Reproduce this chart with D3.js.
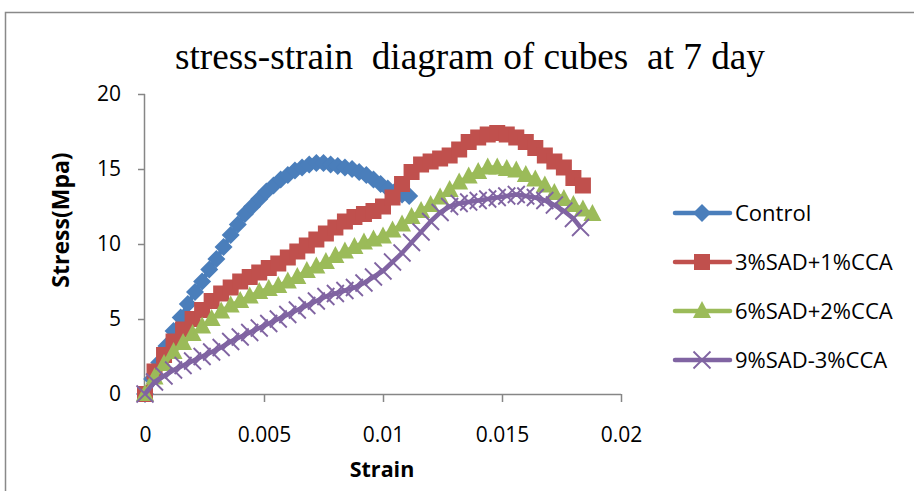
<!DOCTYPE html>
<html>
<head>
<meta charset="utf-8">
<script src="https://cdn.jsdelivr.net/npm/d3@7"></script>
<style>
  body { margin: 0; background: #fff; }
  svg { display: block; }
</style>
</head>
<body>
<div id="chart"></div>
<script>
// stress-strain chart of cubes at 7 days

const TITLE = "stress-strain  diagram of cubes  at 7 day";
const X_LABEL = "Strain";
const Y_LABEL = "Stress(Mpa)";

const xTicks = [0, 0.005, 0.01, 0.015, 0.02];
const yTicks = [0, 5, 10, 15, 20];

const seriesNames = ["Control", "3%SAD+1%CCA", "6%SAD+2%CCA", "9%SAD-3%CCA"];
const seriesColors = ["#4a7ebb", "#c0504d", "#9bbb59", "#8064a2"];
const seriesMarkers = ["diamond", "square", "triangle", "cross"];

// Control
const controlStrain = [0, 0.0003, 0.0006, 0.0009, 0.0012, 0.0015, 0.0018, 0.0021, 0.0024, 0.0027,
  0.003, 0.0033, 0.0036, 0.0039, 0.0042, 0.0045, 0.0048, 0.0051, 0.0054, 0.0057,
  0.006, 0.0063, 0.0066, 0.0069, 0.0072, 0.0075, 0.0078, 0.0081, 0.0084, 0.0087,
  0.009, 0.0093, 0.0096, 0.0099, 0.0102, 0.0105, 0.0108, 0.0111];
const controlStress = [0, 1.0, 2.1, 3.2, 4.2, 5.1, 6.0, 6.8, 7.5, 8.3,
  9.0, 9.8, 10.6, 11.3, 12.0, 12.5, 13.0, 13.5, 13.9, 14.3,
  14.6, 14.9, 15.1, 15.3, 15.4, 15.4, 15.3, 15.2, 15.1, 15.0,
  14.8, 14.6, 14.3, 14.0, 13.7, 13.5, 13.3, 13.2];

// 3%SAD+1%CCA
const sad3Strain = [0, 0.0004, 0.0008, 0.0012, 0.0016, 0.002, 0.0024, 0.0028, 0.0032, 0.0036,
  0.004, 0.0044, 0.0048, 0.0052, 0.0056, 0.006, 0.0064, 0.0068, 0.0072, 0.0076,
  0.008, 0.0084, 0.0088, 0.0092, 0.0096, 0.01, 0.0104, 0.0108, 0.0112, 0.0116,
  0.012, 0.0124, 0.0128, 0.0132, 0.0136, 0.014, 0.0144, 0.0148, 0.0152, 0.0156,
  0.016, 0.0164, 0.0168, 0.0172, 0.0176, 0.018, 0.0184];
const sad3Stress = [0, 1.5, 2.6, 3.5, 4.3, 5.0, 5.6, 6.2, 6.7, 7.1,
  7.5, 7.8, 8.1, 8.4, 8.7, 9.1, 9.5, 9.9, 10.3, 10.7,
  11.1, 11.5, 11.8, 12.0, 12.2, 12.5, 13.1, 14.0, 14.8, 15.3,
  15.5, 15.7, 15.9, 16.3, 16.8, 17.1, 17.3, 17.4, 17.3, 17.1,
  16.8, 16.4, 15.9, 15.5, 15.1, 14.4, 13.9];

// 6%SAD+2%CCA
const sad6Strain = [0, 0.0004, 0.0008, 0.0012, 0.0016, 0.002, 0.0024, 0.0028, 0.0032, 0.0036,
  0.004, 0.0044, 0.0048, 0.0052, 0.0056, 0.006, 0.0064, 0.0068, 0.0072, 0.0076,
  0.008, 0.0084, 0.0088, 0.0092, 0.0096, 0.01, 0.0104, 0.0108, 0.0112, 0.0116,
  0.012, 0.0124, 0.0128, 0.0132, 0.0136, 0.014, 0.0144, 0.0148, 0.0152, 0.0156,
  0.016, 0.0164, 0.0168, 0.0172, 0.0176, 0.018, 0.0184, 0.0188];
const sad6Stress = [0, 1.1, 2.0, 2.8, 3.4, 4.0, 4.5, 5.0, 5.5, 5.9,
  6.2, 6.5, 6.8, 7.0, 7.2, 7.5, 7.8, 8.2, 8.5, 8.8,
  9.2, 9.5, 9.8, 10.1, 10.3, 10.5, 10.9, 11.3, 11.8, 12.2,
  12.6, 13.1, 13.6, 14.1, 14.5, 14.8, 15.1, 15.1, 15.0, 14.9,
  14.6, 14.3, 13.9, 13.4, 13.0, 12.6, 12.3, 12.0];

// 9%SAD-3%CCA
const sad9Strain = [0, 0.0004, 0.0008, 0.0012, 0.0016, 0.002, 0.0024, 0.0028, 0.0032, 0.0036,
  0.004, 0.0044, 0.0048, 0.0052, 0.0056, 0.006, 0.0064, 0.0068, 0.0072, 0.0076,
  0.008, 0.0084, 0.0088, 0.0092, 0.0096, 0.01, 0.0104, 0.0108, 0.0112, 0.0116,
  0.012, 0.0124, 0.0128, 0.0132, 0.0136, 0.014, 0.0144, 0.0148, 0.0152, 0.0156,
  0.016, 0.0164, 0.0168, 0.0172, 0.0176, 0.018, 0.0183];
const sad9Stress = [0, 0.8, 1.2, 1.6, 1.9, 2.2, 2.5, 2.8, 3.1, 3.5,
  3.8, 4.1, 4.4, 4.7, 5.0, 5.3, 5.6, 5.9, 6.2, 6.5,
  6.7, 6.9, 7.1, 7.4, 7.8, 8.2, 8.8, 9.4, 10.1, 10.8,
  11.5, 12.1, 12.5, 12.7, 12.8, 12.9, 13.0, 13.1, 13.2, 13.3,
  13.2, 13.1, 12.9, 12.6, 12.2, 11.7, 11.1];

const strains = [controlStrain, sad3Strain, sad6Strain, sad9Strain];
const stresses = [controlStress, sad3Stress, sad6Stress, sad9Stress];

const W = 914, H = 491;
const plot = {left: 145, right: 621, top: 94, bottom: 394};
const axisColor = "#868686";

const svg = d3.select("#chart").append("svg")
  .attr("width", W)
  .attr("height", H);

svg.append("rect").attr("width", W).attr("height", H).attr("fill", "#fff");

// outer chart border (runs off the right and bottom of the page)
svg.append("rect")
  .attr("x", 5.5).attr("y", 12.5)
  .attr("width", 940).attr("height", 520)
  .attr("fill", "none")
  .attr("stroke", "#898989")
  .attr("stroke-width", 1.5);

const x = d3.scaleLinear().domain([0, 0.02]).range([plot.left, plot.right]);
const y = d3.scaleLinear().domain([0, 20]).range([plot.bottom, plot.top]);

// title
svg.append("text")
  .attr("x", 175).attr("y", 69)
  .attr("textLength", 590)
  .attr("lengthAdjust", "spacingAndGlyphs")
  .style("white-space", "pre")
  .attr("font-family", "'Liberation Serif', 'Times New Roman', serif")
  .attr("font-size", 37)
  .attr("fill", "#000")
  .text(TITLE);

// axes
const xAxis = svg.append("g")
  .attr("transform", `translate(0,${plot.bottom})`)
  .call(d3.axisBottom(x).tickValues(xTicks).tickSize(8).tickPadding(25)
    .tickFormat(d => d === 0 ? "0" : String(+d.toFixed(3))));

const yAxis = svg.append("g")
  .attr("transform", `translate(${plot.left},0)`)
  .call(d3.axisLeft(y).tickValues(yTicks).tickSize(7).tickPadding(17));

[xAxis, yAxis].forEach(g => {
  g.select(".domain").attr("stroke", axisColor).attr("stroke-width", 1.5);
  g.selectAll(".tick line").attr("stroke", axisColor).attr("stroke-width", 1.5);
  g.selectAll(".tick text")
    .attr("font-family", "'Open Sans', sans-serif")
    .attr("font-size", 21)
    .attr("fill", "#000");
});
// keep the axis lines flat, without the outer end ticks
xAxis.select(".domain").attr("d", `M${plot.left},0.5H${plot.right}`);
yAxis.select(".domain").attr("d", `M-0.5,${plot.top}V${plot.bottom}`);

// axis titles
svg.append("text")
  .attr("x", 382).attr("y", 477)
  .attr("text-anchor", "middle")
  .attr("font-family", "'Open Sans', sans-serif")
  .attr("font-weight", "bold")
  .attr("font-size", 21.5)
  .text(X_LABEL);

svg.append("text")
  .attr("transform", "translate(69,220) rotate(-90)")
  .attr("text-anchor", "middle")
  .attr("font-family", "'Open Sans', sans-serif")
  .attr("font-weight", "bold")
  .attr("font-size", 23)
  .text(Y_LABEL);

// marker drawing helper
function drawMarker(g, type, color) {
  if (type === "diamond") {
    g.append("path").attr("d", "M0,-9L9,0L0,9L-9,0Z").attr("fill", color);
  } else if (type === "square") {
    g.append("rect").attr("x", -8).attr("y", -8).attr("width", 16).attr("height", 16)
      .attr("fill", color);
  } else if (type === "triangle") {
    g.append("path").attr("d", "M0,-10L9,7L-9,7Z").attr("fill", color);
  } else {
    g.append("path").attr("d", "M-8.5,-8.5L8.5,8.5M8.5,-8.5L-8.5,8.5")
      .attr("stroke", color).attr("stroke-width", 1.8).attr("fill", "none");
  }
}

const line = d3.line().x(d => x(d[0])).y(d => y(d[1]));

// series, drawn in order so later ones sit on top
seriesNames.forEach((name, i) => {
  const pts = strains[i].map((s, j) => [s, stresses[i][j]]);
  const g = svg.append("g");
  g.append("path")
    .datum(pts)
    .attr("d", line)
    .attr("fill", "none")
    .attr("stroke", seriesColors[i])
    .attr("stroke-width", 4.5)
    .attr("stroke-linejoin", "round");
  g.selectAll("g.m")
    .data(pts)
    .join("g")
    .attr("class", "m")
    .attr("transform", d => `translate(${x(d[0])},${y(d[1])})`)
    .each(function() { drawMarker(d3.select(this), seriesMarkers[i], seriesColors[i]); });
});

// legend
const legend = svg.append("g");
seriesNames.forEach((name, i) => {
  const ly = 213 + i * 49;
  legend.append("line")
    .attr("x1", 675).attr("x2", 730).attr("y1", ly).attr("y2", ly)
    .attr("stroke", seriesColors[i]).attr("stroke-width", 4.5)
    .attr("stroke-linecap", "round");
  const m = legend.append("g").attr("transform", `translate(702,${ly})`);
  drawMarker(m, seriesMarkers[i], seriesColors[i]);
  legend.append("text")
    .attr("x", 735).attr("y", ly)
    .attr("dy", "0.36em")
    .attr("font-family", "'Open Sans', sans-serif")
    .attr("font-size", 22)
    .attr("fill", "#000")
    .text(name);
});
</script>
</body>
</html>
